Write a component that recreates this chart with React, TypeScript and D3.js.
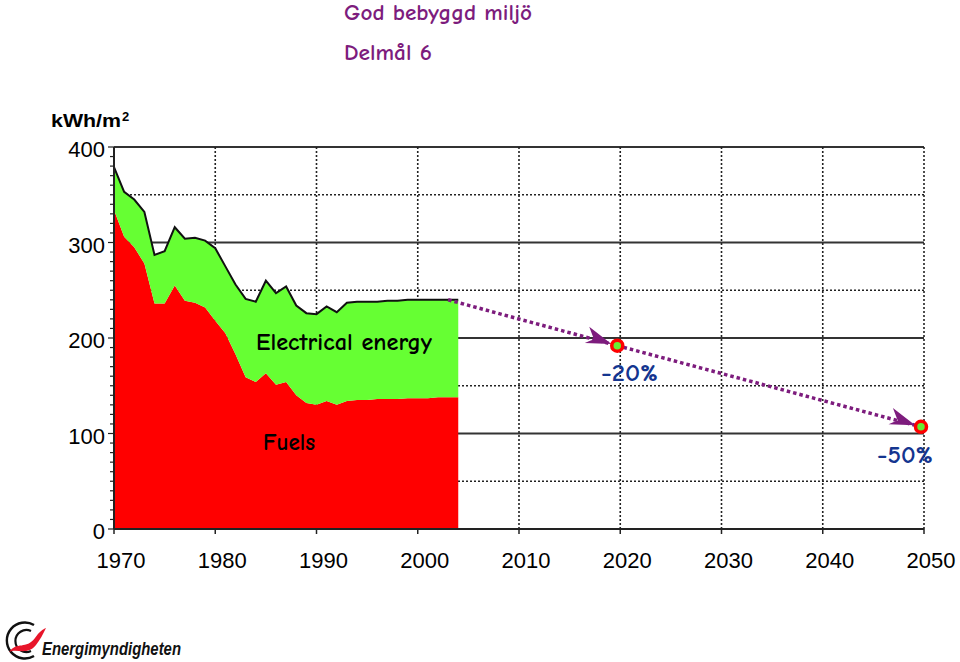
import React from 'react';
import * as d3 from 'd3';

const years = [1970, 1971, 1972, 1973, 1974, 1975, 1976, 1977, 1978, 1979, 1980, 1981, 1982, 1983, 1984, 1985, 1986, 1987, 1988, 1989, 1990, 1991, 1992, 1993, 1994, 1995, 1996, 1997, 1998, 1999, 2000, 2001, 2002, 2003, 2004];
const fuels = [334, 306, 295, 278, 236, 236, 255, 239, 237, 232, 218, 205, 183, 159, 154, 163, 151, 154, 140, 132, 130, 134, 130, 134, 135, 135, 136, 136, 136, 137, 137, 137, 138, 138, 138];
const total = [379, 353, 345, 332, 287, 291, 316, 304, 305, 302, 294, 275, 256, 241, 238, 260, 247, 254, 234, 226, 225, 233, 227, 237, 238, 238, 238, 239, 239, 240, 240, 240, 240, 240, 240];

const targetYears = [2003, 2020, 2050];
const targetValues = [240, 192, 107];
const targetLabels = ['', '-20%', '-50%'];

const xTicks = [1970, 1980, 1990, 2000, 2010, 2020, 2030, 2040, 2050];
const yTicks = [0, 100, 200, 300, 400];
const gridValues = [50, 100, 150, 200, 250, 300, 350, 400];
const minorTicks = d3.range(0, 401, 10);

const COMIC = "'Comic Sans MS','Comic Neue','DejaVu Sans',sans-serif";
const SANS = "'Liberation Sans',Arial,sans-serif";
const PURPLE = '#7d1c7d';
const NAVY = '#14358f';

export default function App() {
  const x = d3.scaleLinear().domain([1970, 2050]).range([114, 924]);
  const y = d3.scaleLinear().domain([0, 400]).range([529, 147]);

  const data = years.map((yr, i) => ({ yr, f: fuels[i], t: total[i] }));
  const redArea = d3.area<any>().x(d => x(d.yr)).y0(y(0)).y1(d => y(d.f))(data) || '';
  const greenArea = d3.area<any>().x(d => x(d.yr)).y0(d => y(d.f)).y1(d => y(d.t))(data) || '';
  const topLine = d3.line<any>().x(d => x(d.yr)).y(d => y(d.t))(data) || '';

  const pts = targetYears.map((yr, i) => ({ px: x(yr) - (i > 0 ? 3 : 0), py: y(targetValues[i]) }));

  const arrowHead = (from: any, to: any, key: string) => {
    const ang = Math.atan2(to.py - from.py, to.px - from.px);
    const tipX = to.px - 6 * Math.cos(ang);
    const tipY = to.py - 6 * Math.sin(ang);
    const deg = (ang * 180) / Math.PI;
    return (
      <path
        key={key}
        transform={`translate(${tipX},${tipY}) rotate(${deg})`}
        d="M0,0 L-26,-11 Q-21,-4 -18,0 Q-22,3 -26,6 Z"
        fill={PURPLE}
      />
    );
  };

  return (
    <svg width={960} height={662} style={{ position: 'absolute', left: 0, top: 0, background: '#fff' }}>
      <rect x={0} y={0} width={960} height={662} fill="#fff" />
      {/* Titles */}
      <text x={344} y={20} fontFamily={COMIC} fontSize={22} fontWeight="bold" fill={PURPLE} textLength={188} lengthAdjust="spacingAndGlyphs">God bebyggd miljö</text>
      <text x={344} y={60} fontFamily={COMIC} fontSize={22} fontWeight="bold" fill={PURPLE} textLength={88} lengthAdjust="spacingAndGlyphs">Delmål 6</text>
      <text x={51} y={127} fontFamily={SANS} fontSize={19} fontWeight="bold" fill="#000">
        <tspan textLength={70} lengthAdjust="spacingAndGlyphs">kWh/m</tspan>
        <tspan dx={1} dy={-6} fontSize={13}>2</tspan>
      </text>

      {/* Grid */}
      {gridValues.map(v => (
        <line key={'h' + v} x1={x(1970)} x2={x(2050)} y1={y(v)} y2={y(v)}
          stroke={v % 100 === 0 ? '#333' : '#222'} strokeWidth={v % 100 === 0 ? 2 : 1.6}
          strokeDasharray={v % 100 === 0 ? undefined : '2,2'} />
      ))}
      {xTicks.slice(1).map(t => (
        <line key={'v' + t} x1={x(t)} x2={x(t)} y1={y(400)} y2={y(0)}
          stroke="#222" strokeWidth={1.6} strokeDasharray="2,2" />
      ))}

      {/* Areas */}
      <path d={redArea} fill="#ff0000" />
      <path d={greenArea} fill="#66ff33" />
      <path d={topLine} fill="none" stroke="#111" strokeWidth={2} />

      {/* Axes */}
      <line x1={x(1970)} x2={x(2050)} y1={y(0)} y2={y(0)} stroke="#222" strokeWidth={2} />
      <line x1={x(1970)} x2={x(1970)} y1={y(0)} y2={y(400)} stroke="#222" strokeWidth={2} />
      {minorTicks.map(v => (
        <line key={'m' + v} x1={x(1970) - (v % 100 === 0 ? 6 : 4)} x2={x(1970)} y1={y(v)} y2={y(v)} stroke="#222" strokeWidth={1.2} />
      ))}
      {xTicks.map(t => (
        <line key={'xt' + t} x1={x(t)} x2={x(t)} y1={y(0)} y2={y(0) + 5} stroke="#222" strokeWidth={1.5} />
      ))}
      {yTicks.map(v => (
        <text key={'yl' + v} x={105} y={y(v) + 10} textAnchor="end" fontFamily={SANS} fontSize={22} fill="#000">{v}</text>
      ))}
      {xTicks.map(t => (
        <text key={'xl' + t} x={x(t) + 7} y={568} textAnchor="middle" fontFamily={SANS} fontSize={22} fill="#000">{t}</text>
      ))}

      {/* Series labels */}
      <text x={256} y={350} fontFamily={COMIC} fontSize={24} fontWeight="bold" fill="#000" textLength={176} lengthAdjust="spacingAndGlyphs">Electrical energy</text>
      <text x={263} y={450} fontFamily={COMIC} fontSize={24} fontWeight="bold" fill="#000" textLength={52} lengthAdjust="spacingAndGlyphs">Fuels</text>

      {/* Target path */}
      {pts.slice(1).map((p, i) => (
        <line key={'dl' + i} x1={pts[i].px} y1={pts[i].py} x2={p.px} y2={p.py}
          stroke={PURPLE} strokeWidth={3.5} strokeDasharray="3.5,3" />
      ))}
      {pts.slice(1).map((p, i) => arrowHead(pts[i], p, 'ah' + i))}
      {pts.slice(1).map((p, i) => (
        <circle key={'c' + i} cx={p.px} cy={p.py} r={5.5} fill="#66ee33" stroke="#ff0000" strokeWidth={3.5} />
      ))}
      <text x={601} y={381} fontFamily={COMIC} fontSize={25} fontWeight="bold" fill={NAVY} textLength={57} lengthAdjust="spacingAndGlyphs">{targetLabels[1]}</text>
      <text x={877} y={463} fontFamily={COMIC} fontSize={25} fontWeight="bold" fill={NAVY} textLength={56} lengthAdjust="spacingAndGlyphs">{targetLabels[2]}</text>

      {/* Logo */}
      <g>
        <path d="M34,625 A18,18 0 1 0 34,656" fill="none" stroke="#111" strokeWidth={2.4} />
        <path d="M31,631 A11,11 0 1 0 31,651" fill="none" stroke="#111" strokeWidth={2.2} />
        <path d="M9,652 C17,641 26,650 35,638 C39,632 43,629 46,628 C43,634 40,640 36,645 C27,656 17,648 9,652 Z" fill="#e8152a" />
        <text x={42} y={655} fontFamily={SANS} fontSize={18} fontWeight="bold" fontStyle="italic" fill="#111" textLength={139} lengthAdjust="spacingAndGlyphs">Energimyndigheten</text>
      </g>
    </svg>
  );
}
